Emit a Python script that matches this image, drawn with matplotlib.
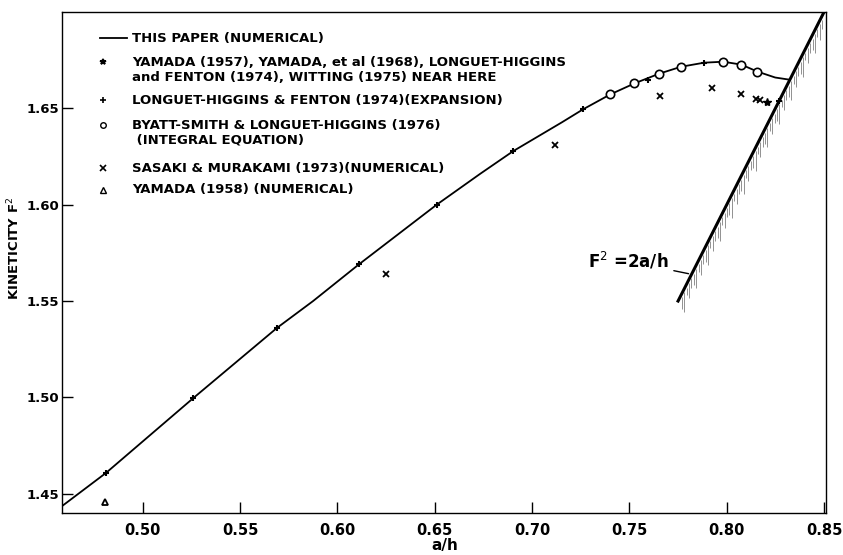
import numpy as np
import matplotlib
matplotlib.use("Agg")
import matplotlib.pyplot as plt

# --- data ---------------------------------------------------------------
# this paper (numerical) : smooth curve
curve_ah = [0.4588, 0.4811, 0.5258, 0.5690, 0.5875, 0.6110, 0.6510, 0.6733,
            0.6903, 0.7154, 0.7262, 0.7401, 0.7525, 0.7653, 0.7766, 0.7884,
            0.7982, 0.8075, 0.8157, 0.8249, 0.8321]
curve_f2 = [1.4438, 1.4608, 1.4995, 1.5361, 1.5500, 1.5690, 1.6000, 1.6160,
            1.6278, 1.6428, 1.6495, 1.6572, 1.6629, 1.6680, 1.6716, 1.6737,
            1.6742, 1.6727, 1.6691, 1.6660, 1.6649]

# Longuet-Higgins & Fenton (1974) expansion
lhf_ah = [0.4811, 0.5258, 0.5690, 0.6110, 0.6510, 0.6903, 0.7262, 0.7597,
          0.7884, 0.8270]
lhf_f2 = [1.4608, 1.4995, 1.5361, 1.5690, 1.6000, 1.6278, 1.6495, 1.6649,
          1.6737, 1.6536]

# Byatt-Smith & Longuet-Higgins (1976)
bslh_ah = [0.7401, 0.7525, 0.7653, 0.7766, 0.7982, 0.8075, 0.8157]
bslh_f2 = [1.6572, 1.6629, 1.6680, 1.6716, 1.6742, 1.6727, 1.6691]

# Sasaki & Murakami (1973)
sm_ah = [0.6250, 0.7119, 0.7659, 0.7926, 0.8075, 0.8152, 0.8173]
sm_f2 = [1.5640, 1.6309, 1.6562, 1.6603, 1.6577, 1.6546, 1.6541]

# Yamada (1957) etc. "near here"
yam_ah = [0.8207]
yam_f2 = [1.6531]

# Yamada (1958)
y58_ah = [0.4806]
y58_f2 = [1.4459]

# limiting line F^2 = 2a/h
lim_ah = [0.775, 0.851]

xticks = [0.50, 0.55, 0.60, 0.65, 0.70, 0.75, 0.80, 0.85]
yticks = [1.45, 1.50, 1.55, 1.60, 1.65]

legend_rows = [
    ("line", "THIS PAPER (NUMERICAL)"),
    ("*", "YAMADA (1957), YAMADA, et al (1968), LONGUET-HIGGINS"),
    (None, "and FENTON (1974), WITTING (1975) NEAR HERE"),
    ("+", "LONGUET-HIGGINS & FENTON (1974)(EXPANSION)"),
    ("o", "BYATT-SMITH & LONGUET-HIGGINS (1976)"),
    (None, " (INTEGRAL EQUATION)"),
    ("x", "SASAKI & MURAKAMI (1973)(NUMERICAL)"),
    ("^", "YAMADA (1958) (NUMERICAL)"),
]
legend_y = [0.948, 0.900, 0.870, 0.824, 0.774, 0.745, 0.688, 0.645]

plt.rcParams['font.family'] = ['DejaVu Sans']

fig = plt.figure(figsize=(8.43, 5.55), dpi=100)
ax = fig.add_axes([62 / 843, 42 / 555, 764 / 843, 501 / 555])

ax.plot(curve_ah, curve_f2, color='black', lw=1.3)
ax.plot(lhf_ah, lhf_f2, '+', color='black', ms=5, mew=1.5)
ax.plot(bslh_ah, bslh_f2, 'o', mfc='white', mec='black', ms=6, mew=1.2)
ax.plot(sm_ah, sm_f2, 'x', color='black', ms=4, mew=1.3)
ax.plot(yam_ah, yam_f2, '*', color='black', ms=6)
ax.plot(y58_ah, y58_f2, '^', mfc='white', mec='black', ms=5, mew=1.3)

# F^2 = 2a/h with hatching on its lower side
lim_x = np.array(lim_ah)
ax.plot(lim_x, 2 * lim_x, color='black', lw=2.2)
hx = np.linspace(lim_ah[0] + 0.002, lim_ah[1] - 0.002, 60)
hlen = np.tile([0.006, 0.010, 0.004, 0.008, 0.005], len(hx) // 5 + 1)[:len(hx)]
ax.vlines(hx, 2 * hx - 0.002 - hlen, 2 * hx - 0.002, color='0.5', lw=0.6)

ax.annotate('F$^{2}$ =2a/h', xy=(0.7818, 1.5639), xytext=(0.7700, 1.5706),
            ha='right', va='center', fontsize=12, fontweight='bold',
            arrowprops=dict(arrowstyle='-', color='black', lw=1.0))

# hand-drawn style legend
for (mk, txt), yy in zip(legend_rows, legend_y):
    if mk == 'line':
        ax.plot([0.050, 0.085], [yy, yy], color='black', lw=1.3,
                transform=ax.transAxes)
    elif mk == 'o':
        ax.plot([0.054], [yy], 'o', mfc='white', mec='black', ms=4, mew=1.0,
                transform=ax.transAxes)
    elif mk == '^':
        ax.plot([0.054], [yy], '^', mfc='white', mec='black', ms=4, mew=1.0,
                transform=ax.transAxes)
    elif mk is not None:
        ax.plot([0.054], [yy], mk, color='black', ms=4, mew=1.2,
                transform=ax.transAxes)
    ax.text(0.092, yy, txt, transform=ax.transAxes, fontsize=9.5,
            fontweight='bold', va='center', ha='left')

ax.set_xlim(0.4585, 0.851)
ax.set_ylim(1.440, 1.700)
ax.set_xticks(xticks)
ax.set_xticklabels(['%.2f' % v for v in xticks])
ax.set_yticks(yticks)
ax.set_yticklabels(['%.2f' % v for v in yticks])
ax.tick_params(direction='in', length=8, width=1.0)
ax.tick_params(axis='x', pad=7, labelsize=10.5)
ax.tick_params(axis='y', pad=2, labelsize=9.5)
for lab in ax.get_xticklabels() + ax.get_yticklabels():
    lab.set_fontweight('bold')
for sp in ax.spines.values():
    sp.set_linewidth(1.0)

ax.set_xlabel('a/h', fontsize=11, fontweight='bold')
ax.xaxis.label.set_va('center')
ax.xaxis.set_label_coords((445 - 62) / 764, -0.064)
ax.set_ylabel('KINETICITY F$^{2}$', fontsize=9.5, fontweight='bold')
ax.yaxis.label.set_va('center')
ax.yaxis.set_label_coords(-(62 - 14) / 764, (513 - 248) / 501)

fig.savefig('out.png', dpi=100)
